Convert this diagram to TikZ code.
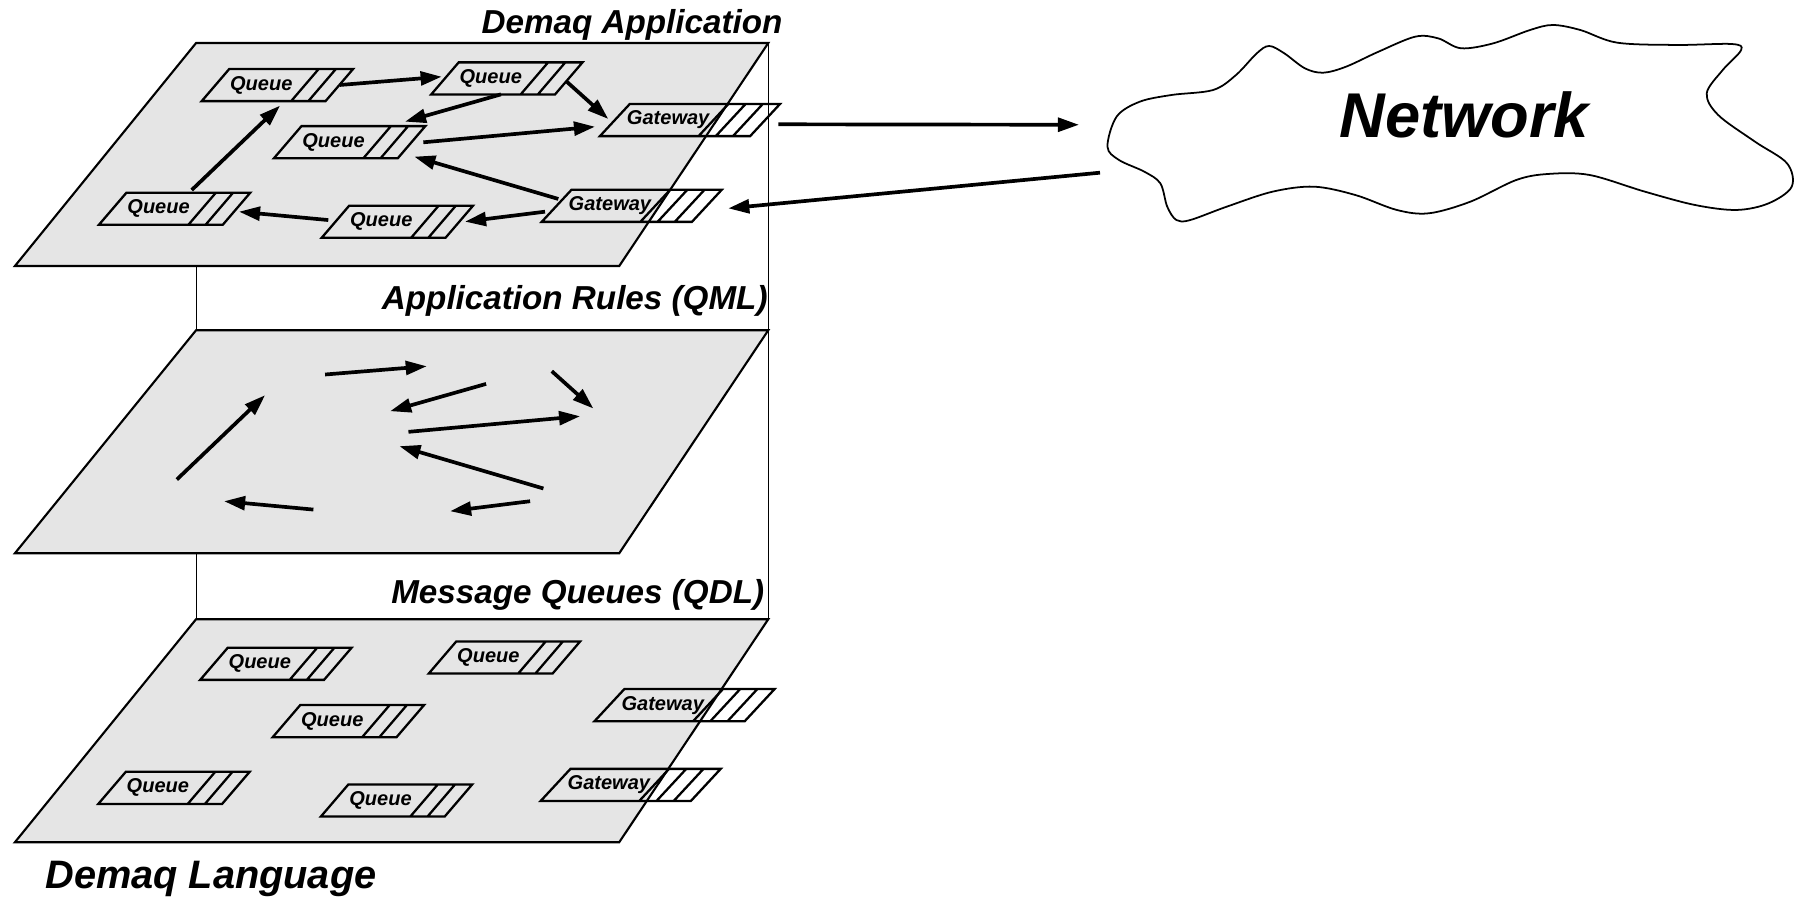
\documentclass[tikz,border=0pt]{standalone}
\usepackage{fontspec}
\setmainfont{Liberation Sans}
\usetikzlibrary{arrows.meta,calc}

\begin{document}
\begin{tikzpicture}[x=0.11467mm,y=-0.11467mm,
  plane/.style={draw=black,fill=black!10,line width=0.6pt},
  rail/.style={draw=black,line width=0.3pt},
  qbox/.style={draw=black,line width=0.65pt},
  lbl/.style={inner sep=0pt,font=\fontsize{5.7}{6}\selectfont\bfseries\itshape},
  title/.style={inner sep=0pt,anchor=base east,font=\fontsize{9.45}{11}\selectfont\bfseries\itshape},
  arr/.style={line width=1.05pt,-{Triangle[length=6pt,width=3.9pt]}}]
\useasboundingbox (0,0) rectangle (1568,785);
\draw[rail] (171,37.5) -- (171,540) (670,37.5) -- (670,540);
\foreach \y in {37.5,288,540}
  \draw[plane] (171,\y) -- (670,\y) -- (540,\y+194.5) -- (13,\y+194.5) -- cycle;
% top plane boxes, m* are the same places on the rules plane
\foreach \n/\x/\y in {q1/241.9/74.2,q2/442/68.4,q3/304.9/124,q4/152.3/182,q5/346.5/193.4}{
  \coordinate (t\n) at (\x,\y);
  \coordinate (m\n) at (\x-13,\y+252.5);
  \draw[qbox] ($(t\n)+(-42,-14)$) -- ++(108,0) -- ++(-24,28) -- ++(-108,0) -- cycle
    ($(t\n)+(51,-14)$) -- ++(-24,28) ($(t\n)+(36,-14)$) -- ++(-24,28);
  \node[lbl] (t\n-l) at ($(t\n)+(-14,0)$) {Queue};
}
\foreach \n/\x/\y in {g1/601.7/104.7,g2/550.9/179.5}{
  \coordinate (t\n) at (\x,\y);
  \coordinate (m\n) at (\x-13,\y+252.5);
  \draw[qbox] ($(t\n)+(-52.5,-14)$) -- ++(131,0) -- ++(-26,28) -- ++(-131,0) -- cycle
    ($(t\n)+(63.5,-14)$) -- ++(-26,28) ($(t\n)+(48.5,-14)$) -- ++(-26,28)
    ($(t\n)+(33.5,-14)$) -- ++(-26,28);
  \node[lbl] (t\n-l) at ($(t\n)+(-19,0)$) {Gateway};
}
% bottom plane boxes
\foreach \n/\x/\y in {q1/240.6/578.9,q2/439.9/573.4,q3/303.8/628.9,q4/151.7/687.1,q5/345.8/698.1}{
  \coordinate (b\n) at (\x,\y);
  \draw[qbox] ($(b\n)+(-42,-14)$) -- ++(108,0) -- ++(-24,28) -- ++(-108,0) -- cycle
    ($(b\n)+(51,-14)$) -- ++(-24,28) ($(b\n)+(36,-14)$) -- ++(-24,28);
  \node[lbl] (b\n-l) at ($(b\n)+(-14,0)$) {Queue};
}
\foreach \n/\x/\y in {g1/597/614.9,g2/550/684.5}{
  \coordinate (b\n) at (\x,\y);
  \draw[qbox] ($(b\n)+(-52.5,-14)$) -- ++(131,0) -- ++(-26,28) -- ++(-131,0) -- cycle
    ($(b\n)+(63.5,-14)$) -- ++(-26,28) ($(b\n)+(48.5,-14)$) -- ++(-26,28)
    ($(b\n)+(33.5,-14)$) -- ++(-26,28);
  \node[lbl] (b\n-l) at ($(b\n)+(-19,0)$) {Gateway};
}
\foreach \p in {t,m}{
  \draw[arr] ($(\p q4)+(14.9,-16.3)$) -- ($(\p q1)+(2.3,17.9)$);
  \draw[arr] ($(\p q1)+(54.6,-0.1)$) -- ($(\p q2)+(-56.8,-1.5)$);
  \draw[arr] ($(\p q2)+(-5.1,13.9)$) -- ($(\p q3)+(48.3,-17.9)$);
  \draw[arr] ($(\p q2)+(52.2,2.8)$) -- ($(\p g1)+(-71.2,-0.9)$);
  \draw[arr] ($(\p q3)+(64.3,0.1)$) -- ($(\p g1)+(-82.8,5.8)$);
  \draw[arr] ($(\p g2)+(-64,-6)$) -- ($(\p q3)+(56.4,12.6)$);
  \draw[arr] ($(\p g2)+(-75.6,5.1)$) -- ($(\p q5)+(59,-0.1)$);
  \draw[arr] ($(\p q5)+(-60.2,-1.5)$) -- ($(\p q4)+(56.1,2.6)$);
}
\draw[line width=0.5pt] plot[smooth cycle,tension=0.55] coordinates {
  (965.8,127.9) (973.8,101.7) (993.9,88.7) (1021.9,82.8) (1057.9,78.5)
  (1077.9,65.4) (1096,46.5) (1106.8,40.1) (1120,46.5) (1138,59.6)
  (1154,63.4) (1174,58.1) (1202.1,45.1) (1234.1,32) (1254.1,33.4)
  (1274.1,42.1) (1302.2,37.8) (1334.2,26.2) (1354.2,21.8) (1378.3,26.2)
  (1410.3,37.2) (1462.3,39.2) (1510.4,38.4) (1518.4,43.6) (1502.4,61)
  (1488.4,81.4) (1498.4,100.3) (1530.4,123.5) (1558.4,142.4) (1562.5,162.8)
  (1542.4,177.3) (1514.4,183.1) (1478.3,178.8) (1434.3,167.1) (1386.3,152.6)
  (1350.2,151.7) (1322.2,157) (1282.2,175.9) (1246.1,186) (1218.1,183.1)
  (1182.1,170.1) (1146,162.8) (1110,167.1) (1069.9,180.2) (1037.9,191.9)
  (1025.9,191.9) (1017.9,180.2) (1011.9,159.9) (997.9,149.7) (975.8,139.5)};
\node[inner sep=0pt,anchor=base,font=\fontsize{18}{20}\selectfont\bfseries\itshape] (net) at (1277,119.8) {Network};
\coordinate (netin) at (941,108.8);
\coordinate (netout) at (959.3,150.6);
\draw[arr] ($(tg1)+(77,3.7)$) -- (netin);
\draw[arr] (netout) -- ($(tg2)+(84.2,2.2)$);
\node[title] (app) at (683,29.1) {Demaq Application};
\node[title] (rules) at (670,270.3) {Application Rules (QML)};
\node[title] (msgs) at (667,526) {Message Queues (QDL)};
\node[title,anchor=base west,font=\fontsize{11.3}{13}\selectfont\bfseries\itshape] (lang) at (39,774.5) {Demaq Language};
\end{tikzpicture}
\end{document}
